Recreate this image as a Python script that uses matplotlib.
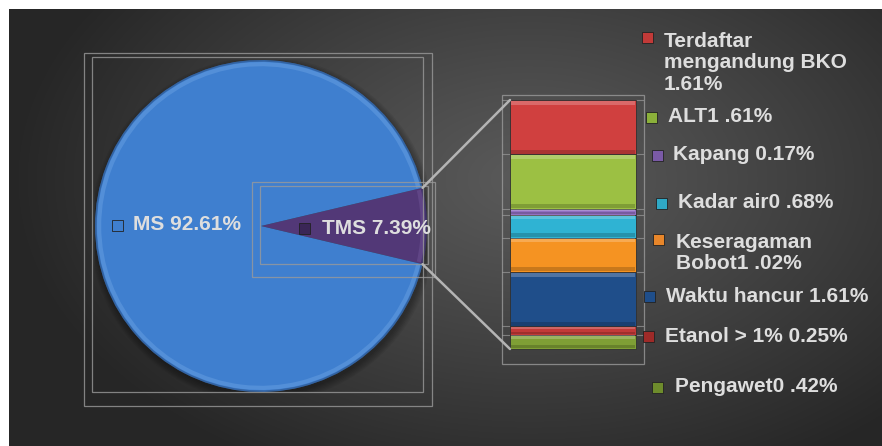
import numpy as np
import matplotlib
matplotlib.use('Agg')
import matplotlib.pyplot as plt
from matplotlib.patches import Rectangle, ConnectionPatch, Circle, Arc

plt.rcParams['font.family'] = ['Liberation Sans', 'DejaVu Sans']

# %%
# data
pie_labels = ['TMS', 'MS']
pie_values = [7.39, 92.61]
pie_colors = ['#523877', '#3f7fcf']

# bar of pie, bottom to top
bar_labels = ['Pengawet0 .42%', 'Etanol > 1% 0.25%', 'Waktu hancur 1.61%',
              'Keseragaman\nBobot1 .02%', 'Kadar air0 .68%', 'Kapang 0.17%',
              'ALT1 .61%', 'Terdaftar\nmengandung BKO\n1.61%']
bar_values = [0.42, 0.25, 1.61, 1.02, 0.68, 0.17, 1.61, 1.61]
bar_colors = ['#7f9f35', '#c23a38', '#1f4e8a', '#f59322', '#2fb3d3',
              '#9270c2', '#9cc043', '#d0403f']
marker_colors = ['#6e8c2c', '#9e2a28', '#1f4e8a', '#e8862a', '#2fa9c6',
                 '#7a5aa6', '#8bb03a', '#c23a38']

W, H = 882, 446


def fx(x):
    return x / W


def fy(y):
    return 1 - y / H


fig = plt.figure(figsize=(8.82, 4.46), dpi=100, facecolor='white')

# %%
# background gradient
bg = fig.add_axes([fx(9), 0, 1 - fx(9), 1 - 9 / H])
yy, xx = np.mgrid[0:437, 0:873]
d = np.sqrt(((xx - 520) / 520) ** 2 + ((yy - 170) / 330) ** 2)
d = np.clip(d, 0, 1)
grad = 0x5a - (0x5a - 0x26) * d ** 1.1
img = np.dstack([grad, grad, grad]) / 255
bg.imshow(img, aspect='auto', interpolation='bilinear')
bg.set_axis_off()

# frames around the plot areas
frame_col = '#9a9a9a'
for (x0, y0, x1, y1) in [(84, 53, 432, 406), (92, 57, 423, 392),
                         (252, 182, 435, 277), (260, 186, 428, 264),
                         (502, 95, 644, 364)]:
    fig.patches.append(Rectangle((fx(x0), fy(y1)), fx(x1) - fx(x0), fy(y0) - fy(y1),
                                 transform=fig.transFigure, fill=False,
                                 edgecolor=frame_col, lw=0.9, alpha=0.8, zorder=1))

# %%
# pie
r_px = 166
cx, cy = 261, 226
axp = fig.add_axes([fx(cx - r_px), fy(cy + r_px), 2 * r_px / W, 2 * r_px / H])
start = -pie_values[0] / 100 * 360 / 2
# soft shadow
for k in range(6):
    axp.add_patch(Circle((0.01, -0.02), 1.0 + 0.008 * k, color='black',
                         alpha=0.06, lw=0, zorder=0))
wedges, _ = axp.pie(pie_values, colors=pie_colors, startangle=start,
                    counterclock=True, radius=1,
                    wedgeprops=dict(edgecolor='none'))
# rim bevel, per wedge
for w, light in zip(wedges, ['#8a6fb5', '#8fc0f5']):
    axp.add_patch(Arc((0, 0), 1.95, 1.95, theta1=w.theta1 + 0.5, theta2=w.theta2 - 0.5,
                      edgecolor=light, lw=3, alpha=0.25, zorder=3))
    axp.add_patch(Arc((0, 0), 1.99, 1.99, theta1=w.theta1, theta2=w.theta2,
                      edgecolor='#1c2f50', lw=1.2, alpha=0.35, zorder=3))
axp.set_xlim(-1, 1)
axp.set_ylim(-1, 1)
axp.set_axis_off()

# %%
# stacked bar
bx0, bx1, by0, by1 = 502, 644, 95, 364
axb = fig.add_axes([fx(bx0), fy(by1), (bx1 - bx0) / W, (by1 - by0) / H])
total = sum(bar_values)
ppu = 249 / total
axb.set_ylim(-15 / ppu, total + 5 / ppu)
axb.set_xlim(0, 142)
bottoms = np.concatenate([[0], np.cumsum(bar_values)[:-1]])
bw = 126
bl = 8
axb.bar([bl + bw / 2] * len(bar_values), bar_values, width=bw, bottom=bottoms,
        color=bar_colors, edgecolor='#303030', linewidth=0.6, zorder=3)
# bevel highlights
for b, v, c in zip(bottoms, bar_values, bar_colors):
    hl = min(0.12, v * 0.25)
    axb.bar(bl + bw / 2, hl, width=bw - 2, bottom=b + v - hl - 0.02,
            color='white', alpha=0.22, linewidth=0, zorder=4)
    axb.bar(bl + bw / 2, hl, width=bw - 2, bottom=b + 0.02,
            color='black', alpha=0.18, linewidth=0, zorder=4)
# small ticks at segment boundaries
edges = np.cumsum(bar_values)
for e in edges:
    axb.plot([0, bl], [e, e], color=frame_col, lw=0.8, alpha=0.7, zorder=2)
    axb.plot([bl + bw, 142], [e, e], color=frame_col, lw=0.8, alpha=0.7, zorder=2)
axb.set_axis_off()

# connector lines
t1 = np.deg2rad(wedges[0].theta1)
t2 = np.deg2rad(wedges[0].theta2)
for t, yv in [(t2, total), (t1, 0)]:
    con = ConnectionPatch(xyA=(np.cos(t), np.sin(t)), coordsA=axp.transData,
                          xyB=(bl, yv), coordsB=axb.transData,
                          color='#b4b4b4', lw=1.8, zorder=5)
    fig.add_artist(con)

# %%
# labels
txt_col = '#dedede'
fs = 15


def marker(x, y, color):
    s = 11
    fig.patches.append(Rectangle((fx(x - s / 2), fy(y + s / 2)), s / W, s / H,
                                 transform=fig.transFigure, facecolor=color,
                                 edgecolor='#222222', lw=0.6, zorder=6))


# pie labels
marker(117, 225, pie_colors[1])
fig.text(fx(133), fy(225), f'{pie_labels[1]} {pie_values[1]:.2f}%', color=txt_col,
         fontsize=fs, fontweight='bold', va='center', ha='left')
marker(304, 228, '#3a2656')
fig.text(fx(322), fy(228), f'{pie_labels[0]} {pie_values[0]:.2f}%', color=txt_col,
         fontsize=fs, fontweight='bold', va='center', ha='left')

# bar labels: (marker x, marker y, text x, text center y), bottom to top
label_pos = [(657, 387, 675, 387), (648, 336, 665, 336), (649, 296, 666, 296),
             (658, 239, 676, 253), (661, 203, 678, 203), (657, 155, 673, 155),
             (651, 117, 668, 117), (647, 37, 664, 63)]
for lab, mc, (mx, my, tx, ty) in zip(bar_labels, marker_colors, label_pos):
    marker(mx, my, mc)
    fig.text(fx(tx), fy(ty), lab, color=txt_col, fontsize=fs, fontweight='bold',
             va='center', ha='left', linespacing=1.15)

plt.savefig('out.png', dpi=100)
